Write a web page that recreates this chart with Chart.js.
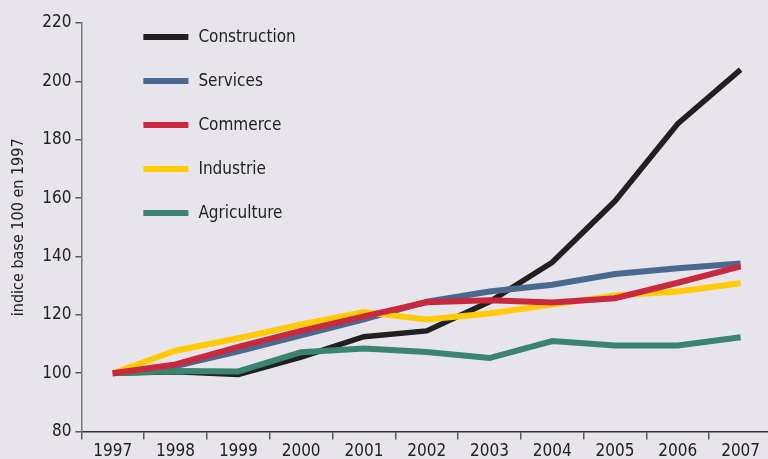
<!DOCTYPE html>
<html>
<head>
<meta charset="utf-8">
<script src="https://cdn.jsdelivr.net/npm/chart.js@4.4.1/dist/chart.umd.min.js"></script>
<style>
  html, body { margin: 0; padding: 0; background: #e7e4eb; overflow: hidden; }
  #wrap { width: 772px; height: 459px; }
</style>
</head>
<body>
<div id="wrap"><canvas id="myChart" width="772" height="459"></canvas></div>
<script>
const years = ['1997', '1998', '1999', '2000', '2001', '2002', '2003', '2004', '2005', '2006', '2007'];
const construction = [100, 100.5, 99.6, 105.5, 112.5, 114.5, 124.5, 138, 159, 185.5, 204];
const services = [100, 102.5, 107.5, 113, 118.5, 124.5, 128, 130.3, 134, 136, 137.6];
const commerce = [100, 103, 109, 114.5, 119.5, 124.3, 125, 124.2, 125.7, 131, 136.6];
const industrie = [100, 107.7, 112, 116.7, 121, 118.4, 120.5, 123.5, 126.6, 128, 130.8];
const agriculture = [100, 100.8, 100.6, 107.2, 108.5, 107.3, 105.2, 111, 109.5, 109.5, 112.3];
const yTicks = [80, 100, 120, 140, 160, 180, 200, 220];

const FONT = "'Liberation Sans Narrow', 'DejaVu Sans Condensed', 'Arial Narrow', sans-serif";
const textColor = '#222222';
const axisColor = '#5a5a5a';

// legend drawn inside the plot area, top left
const innerLegend = {
    id: 'innerLegend',
    afterDraw(chart) {
        const ctx = chart.ctx;
        const area = chart.chartArea;
        ctx.save();
        chart.data.datasets.forEach((ds, i) => {
            const y = area.top + 14 + i * 44;
            const x = area.left + 62;
            ctx.strokeStyle = ds.borderColor;
            ctx.lineWidth = 6;
            ctx.lineCap = 'butt';
            ctx.beginPath();
            ctx.moveTo(x, y);
            ctx.lineTo(x + 45, y);
            ctx.stroke();
            ctx.fillStyle = textColor;
            ctx.font = '17px ' + FONT;
            ctx.textBaseline = 'middle';
            ctx.fillText(ds.label, x + 55, y + 1);
        });
        ctx.restore();
    }
};

function line(label, data, color, order, width) {
    return {
        label: label,
        data: data,
        borderColor: color,
        backgroundColor: color,
        borderWidth: width,
        pointRadius: 0,
        tension: 0,
        fill: false,
        order: order,
        borderJoinStyle: 'miter'
    };
}

const ctx = document.getElementById('myChart').getContext('2d');
new Chart(ctx, {
    type: 'line',
    data: {
        labels: years,
        datasets: [
            line('Construction', construction, '#231f20', 4, 5.5),
            line('Services', services, '#4a6990', 3, 6),
            line('Commerce', commerce, '#c8293f', 0, 6),
            line('Industrie', industrie, '#ffcb05', 2, 6),
            line('Agriculture', agriculture, '#3b8472', 1, 6)
        ]
    },
    options: {
        responsive: false,
        animation: false,
        layout: { padding: { left: 9, right: 0, top: 23, bottom: -5 } },
        scales: {
            x: {
                offset: true,
                grid: {
                    offset: true,
                    drawOnChartArea: false,
                    drawTicks: true,
                    tickLength: 8,
                    tickColor: axisColor,
                    lineWidth: 1.5
                },
                border: { display: true, color: '#333', width: 1.5 },
                ticks: {
                    color: textColor,
                    font: { family: FONT, size: 17 },
                    padding: 2,
                    maxRotation: 0,
                    autoSkip: false
                }
            },
            y: {
                min: 80,
                max: 220,
                afterBuildTicks: axis => { axis.ticks = yTicks.map(v => ({ value: v })); },
                grid: {
                    drawOnChartArea: false,
                    drawTicks: true,
                    tickLength: 6,
                    tickColor: axisColor,
                    lineWidth: 1.5
                },
                border: { display: true, color: '#777', width: 1.5 },
                ticks: {
                    color: textColor,
                    font: { family: FONT, size: 17 },
                    padding: 4
                },
                title: {
                    display: true,
                    text: 'indice base 100 en 1997',
                    color: textColor,
                    font: { family: FONT, size: 16 },
                    padding: { top: 0, bottom: 10 }
                }
            }
        },
        plugins: {
            legend: { display: false },
            tooltip: { enabled: false }
        }
    },
    plugins: [innerLegend]
});
</script>
</body>
</html>
